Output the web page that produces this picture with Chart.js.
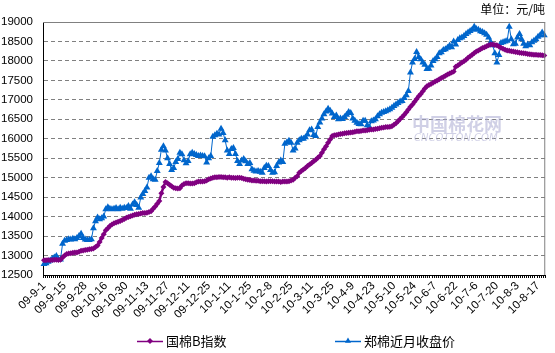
<!DOCTYPE html>
<html>
<head>
<meta charset="utf-8">
<script src="https://cdn.jsdelivr.net/npm/chart.js@4.4.1/dist/chart.umd.min.js"></script>
<style>
  html, body { margin: 0; padding: 0; background: #fff; }
  #wrap { width: 555px; height: 353px; }
</style>
</head>
<body>
<div id="wrap"><canvas id="linechart" width="555" height="353"></canvas></div>
<script>
// x tick labels, one every 10 trading days
const tickLabels = ['09-9-1', '09-9-15', '09-9-28', '09-10-16', '09-10-30', '09-11-13', '09-11-27',
  '09-12-11', '09-12-25', '10-1-11', '10-1-25', '10-2-8', '10-2-25', '10-3-11', '10-3-25', '10-4-9',
  '10-4-23', '10-5-10', '10-5-24', '10-6-7', '10-6-22', '10-7-6', '10-7-20', '10-8-3', '10-8-17'];

// 国棉B指数 (daily)
const bIndex = [
  12880, 12880, 12885, 12880, 12885, 12890, 12890, 12885, 12890, 12950,
  13000, 13040, 13050, 13060, 13070, 13075, 13080, 13100, 13120, 13130,
  13140, 13150, 13160, 13170, 13180, 13220, 13260, 13350, 13450, 13550,
  13650, 13700, 13760, 13800, 13830, 13850, 13870, 13890, 13910, 13940,
  13970, 13990, 14010, 14030, 14050, 14060, 14070, 14080, 14090, 14095,
  14100, 14120, 14140, 14200, 14260, 14330, 14400, 14600, 14760, 14890,
  14860, 14820, 14780, 14740, 14730, 14725, 14730, 14800, 14840, 14860,
  14860, 14850, 14850, 14860, 14880, 14900, 14900, 14900, 14910, 14930,
  14960, 14980, 15000, 15010, 15010, 15020, 15020, 15010, 15010, 15000,
  15010, 15000, 15000, 14990, 15000, 15000, 14990, 14970, 14960, 14950,
  14940, 14930, 14930, 14920, 14920, 14910, 14910, 14910, 14900, 14910,
  14910, 14910, 14900, 14900, 14900, 14890, 14900, 14900, 14900, 14910,
  14930, 14950, 15000, 15040, 15130, 15170, 15210, 15250, 15300, 15340,
  15380, 15420, 15460, 15510, 15555, 15640, 15730, 15810, 15900, 15980,
  16070, 16090, 16100, 16110, 16120, 16130, 16140, 16150, 16155, 16160,
  16170, 16180, 16190, 16195, 16200, 16210, 16215, 16220, 16230, 16235,
  16240, 16250, 16260, 16270, 16280, 16290, 16300, 16305, 16310, 16320,
  16360, 16400, 16450, 16510, 16560, 16620, 16680, 16750, 16820, 16880,
  16950, 17020, 17090, 17150, 17220, 17290, 17350, 17380, 17410, 17440,
  17470, 17500, 17530, 17560, 17590, 17620, 17650, 17680, 17700, 17730,
  17850, 17880, 17920, 17960, 17990, 18030, 18080, 18120, 18160, 18205,
  18240, 18270, 18300, 18330, 18350, 18380, 18400, 18420, 18420, 18410,
  18400, 18370, 18340, 18310, 18290, 18270, 18260, 18250, 18240, 18230,
  18220, 18210, 18205, 18200, 18190, 18180, 18170, 18165, 18160, 18160,
  18150, 18150, 18145, 18140
];

// 郑棉近月收盘价 (daily)
const zzClose = [
  12780, 12800, 12840, 12870, 12920, 12950, 12990, 12900, 12900, 13300,
  13380, 13400, 13420, 13410, 13430, 13420, 13450, 13500, 13560, 13450,
  13410, 13400, 13400, 13420, 13700, 13880, 13980, 13930, 13960, 14000,
  14190, 14240, 14200, 14190, 14200, 14220, 14190, 14230, 14200, 14230,
  14220, 14270, 14200, 14310, 14370, 14300, 14230, 14490, 14580, 14660,
  14750, 15000, 15040, 14960, 14950, 15170, 15380, 15720, 15810, 15700,
  15500, 15350, 15200, 15250, 15400, 15480, 15640, 15600, 15450, 15370,
  15430, 15600, 15640, 15610, 15580, 15560, 15570, 15560, 15550, 15390,
  15500, 15560, 16050, 16090, 16130, 16110, 16260, 16150, 15960, 15700,
  15610, 15740, 15760, 15610, 15430, 15350, 15440, 15480, 15420, 15350,
  15380, 15220, 15180, 15160, 15170, 15150, 15130, 15250, 15310, 15300,
  15200, 15130, 15140, 15300, 15390, 15440, 15400, 15870, 15910, 15950,
  15900, 15700, 15750, 15900, 15960, 16000, 16000, 16040, 16110, 16220,
  16240, 16100, 16070, 16300, 16420, 16520, 16630, 16700, 16770, 16720,
  16650, 16560, 16600, 16500, 16520, 16510, 16560, 16620, 16690, 16660,
  16520, 16460, 16410, 16380, 16370, 16460, 16460, 16350, 16300, 16450,
  16470, 16500, 16580, 16630, 16670, 16690, 16710, 16730, 16760, 16800,
  16840, 16880, 16920, 16960, 16970, 17050, 17120, 17230, 17700, 17960,
  18050, 18230, 18100, 18040, 17960, 17900, 17790, 17800, 17880, 18000,
  18040, 18100, 18200, 18220, 18280, 18300, 18340, 18390, 18350, 18500,
  18420, 18540, 18580, 18600, 18640, 18690, 18730, 18770, 18800, 18880,
  18820, 18800, 18760, 18740, 18710, 18670, 18600, 18480, 18400, 18200,
  17960, 18150, 18460, 18480, 18500, 18520, 18880, 18560, 18430, 18440,
  18600, 18690, 18560, 18440, 18380, 18420, 18400, 18480, 18520, 18560,
  18620, 18660, 18730, 18660
];

const yTicks = { min: 12500, max: 19000, step: 500 };

const labels = bIndex.map((v, i) => (i % 10 === 0 ? tickLabels[i / 10] : ''));

const PURPLE = '#800080';
const BLUE = '#0066cc';

// frame, unit note, legend and watermark
const decor = {
  id: 'decor',
  beforeDatasetsDraw(chart) {
    const ctx = chart.ctx;
    ctx.save();
    ctx.fillStyle = 'rgba(170,170,210,0.55)';
    ctx.font = 'bold 18px "Noto Sans CJK SC"';
    ctx.textBaseline = 'middle';
    ctx.fillText('中国棉花网', 412, 124);
    ctx.font = 'italic 10px "DejaVu Sans"';
    ctx.fillText('CNCOTTON.COM', 414, 138);
    ctx.restore();
  },
  afterDraw(chart) {
    const ctx = chart.ctx;
    const a = chart.chartArea;
    ctx.save();
    ctx.strokeStyle = '#808080';
    ctx.lineWidth = 1;
    ctx.beginPath();
    ctx.moveTo(a.left, a.top + 0.5);
    ctx.lineTo(a.right - 0.5, a.top + 0.5);
    ctx.lineTo(a.right - 0.5, a.bottom);
    ctx.stroke();

    ctx.fillStyle = '#000';
    ctx.font = '12px "Noto Sans CJK SC"';
    ctx.textBaseline = 'middle';
    ctx.textAlign = 'right';
    ctx.fillText('单位：元/吨', 545, 9);

    // legend
    ctx.textAlign = 'left';
    ctx.font = '13px "Noto Sans CJK SC"';
    const items = [
      { x: 137, text: '国棉B指数', color: PURPLE, style: 'rectRot', r: 3 },
      { x: 335, text: '郑棉近月收盘价', color: BLUE, style: 'triangle', r: 3.5 }
    ];
    const ly = 341;
    items.forEach(it => {
      ctx.strokeStyle = it.color;
      ctx.fillStyle = it.color;
      ctx.lineWidth = 1.5;
      ctx.beginPath();
      ctx.moveTo(it.x, ly + 0.5);
      ctx.lineTo(it.x + 26, ly + 0.5);
      ctx.stroke();
      Chart.helpers.drawPoint(ctx, { pointStyle: it.style, radius: it.r, borderWidth: 0 }, it.x + 13, ly);
      ctx.fillStyle = '#000';
      ctx.fillText(it.text, it.x + 29, ly);
    });
    ctx.restore();
  }
};

const linechart = new Chart(document.getElementById('linechart').getContext('2d'), {
  type: 'line',
  data: {
    labels: labels,
    datasets: [{
      label: '国棉B指数',
      data: bIndex,
      borderColor: PURPLE,
      backgroundColor: PURPLE,
      borderWidth: 2.5,
      pointStyle: 'rectRot',
      pointRadius: 3,
      pointBorderWidth: 0,
      tension: 0
    }, {
      label: '郑棉近月收盘价',
      data: zzClose,
      borderColor: BLUE,
      backgroundColor: BLUE,
      borderWidth: 1,
      pointStyle: 'triangle',
      pointRadius: 4,
      pointBorderWidth: 0,
      tension: 0
    }]
  },
  options: {
    responsive: false,
    animation: false,
    devicePixelRatio: 1,
    layout: { padding: { top: 22, right: 6, left: 0, bottom: 0 } },
    scales: {
      x: {
        type: 'category',
        offset: true,
        grid: { offset: true, drawOnChartArea: false, drawTicks: true, tickLength: 3, color: '#000' },
        border: { color: '#000', width: 1 },
        ticks: {
          autoSkip: false,
          minRotation: 45,
          maxRotation: 45,
          padding: 1,
          color: '#000',
          font: { family: 'Liberation Sans', size: 11.5 }
        },
        afterFit: s => { s.height = 78; }
      },
      y: {
        min: yTicks.min,
        max: yTicks.max,
        grid: {
          drawTicks: false,
          color: '#808080'
        },
        border: {
          color: '#000',
          width: 1,
          dash: ctx => (ctx.tick && ctx.tick.value === yTicks.max ? [] : [4, 3])
        },
        ticks: {
          stepSize: yTicks.step,
          padding: 10,
          color: '#000',
          font: { family: 'Liberation Sans', size: 11.5 },
          callback: value => String(value)
        },
        afterFit: s => { s.width = 43; }
      }
    },
    plugins: {
      legend: { display: false },
      tooltip: { enabled: false }
    }
  },
  plugins: [decor]
});
</script>
</body>
</html>
